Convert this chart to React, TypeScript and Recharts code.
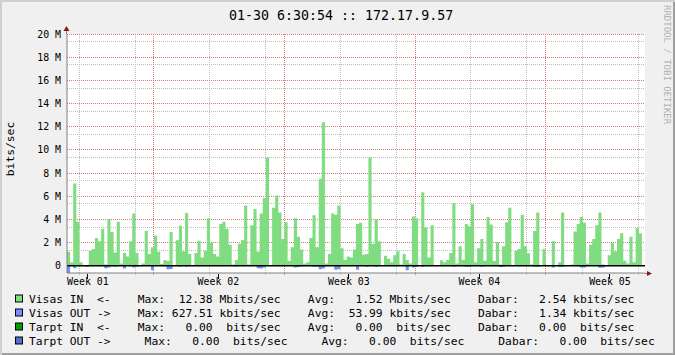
import { ComposedChart, Area, XAxis, YAxis, ReferenceLine, CartesianGrid } from "recharts";

// 4-hour bins over 31 days, values in Mbit/s
const BIN_DAYS = 1 / 6;
const TOTAL_DAYS = 31;

const visasIn = [
  1.2, 0.3, 7.1, 3.8, 0.3, 0, 0.05, 1.3, 1.45, 2.4, 2.1, 3.2,
  0.1, 4.0, 2.9, 1.15, 3.8, 0.2, 1.1, 0.8, 2.1, 4.5, 1.1, 0,
  0.2, 3.0, 1.0, 1.6, 2.6, 1.2, 0.15, 0.5, 0.4, 2.9, 0.05, 2.2,
  3.45, 1.24, 4.55, 1.0, 0.05, 1.1, 2.15, 0.7, 1.3, 4.1, 2.0, 1.0,
  0.8, 3.6, 3.8, 3.2, 1.8, 0.1, 0.5, 1.9, 2.2, 5.2, 0.1, 3.5,
  4.9, 1.2, 4.5, 5.85, 9.35, 0.05, 5.0, 6.07, 4.6, 2.3, 3.75, 0.4,
  1.6, 4.1, 2.5, 1.4, 0.2, 0.3, 2.4, 4.35, 1.6, 7.5, 12.38, 0.2,
  1.0, 4.5, 4.4, 5.2, 1.5, 0.5, 0.8, 0.7, 1.4, 3.6, 3.7, 0.95,
  1.0, 9.35, 1.87, 4.0, 2.1, 0, 0.86, 0.6, 0.3, 0.9, 1.24, 0.1,
  1.0, 0.5, 0.2, 4.25, 4.1, 0, 6.35, 3.3, 0.7, 3.5, 0, 0,
  0.46, 0.3, 0.5, 1.1, 5.4, 0.2, 1.67, 0.5, 3.6, 3.4, 5.3, 0.3,
  1.5, 2.3, 0.43, 4.2, 3.55, 0.4, 2.05, 0.1, 1.67, 3.75, 5.0, 0,
  1.3, 1.44, 4.4, 1.67, 1.07, 0.1, 3.0, 4.6, 0, 1.44, 0, 0,
  2.1, 0.05, 0.3, 4.6, 0, 0, 0.1, 2.95, 3.6, 4.2, 3.7, 0.2,
  1.8, 2.3, 3.5, 4.6, 0.1, 0, 0.9, 1.95, 1.25, 2.3, 2.8, 0.43,
  0.2, 2.5, 0.3, 3.25, 2.8, 0,
];

const visasOut = [
  -0.63, 0, -0.22, 0, 0, 0, -0.1, 0, 0, 0, -0.05, 0,
  -0.22, -0.15, 0, -0.08, 0, 0, -0.25, 0, 0, -0.15, -0.1, 0,
  0, 0, 0, -0.4, 0, 0, 0, 0, -0.3, -0.28, 0, 0,
  -0.1, 0, -0.1, 0, 0, 0, -0.05, 0, 0, 0, 0, 0,
  0, 0, 0, 0, 0, 0, -0.06, 0, 0, 0, 0, 0,
  0, -0.22, -0.25, -0.15, 0, 0, 0, 0, -0.05, 0, 0, 0,
  0, -0.15, -0.12, -0.05, 0, 0, 0, -0.1, -0.08, -0.3, -0.25, 0,
  0, 0, -0.35, -0.3, 0, 0, 0, 0, 0, -0.35, 0, 0,
  -0.1, 0, 0, -0.1, 0, 0, 0, 0, 0, -0.05, 0, 0,
  0, -0.4, 0, -0.15, -0.1, 0, -0.1, 0, -0.05, 0, 0, 0,
  0, 0, 0, 0, -0.1, 0, 0, 0, -0.1, -0.1, 0, 0,
  0, -0.1, 0, 0, 0, 0, 0, -0.12, -0.1, 0, 0, 0,
  0, -0.05, 0, 0, 0, 0, -0.1, -0.08, 0, 0, 0, 0,
  -0.15, 0, -0.1, -0.08, 0, 0, 0, 0, 0, -0.15, -0.15, 0,
  0, 0, 0, -0.18, -0.15, 0, 0, 0, 0, 0, 0, 0,
  0, 0, 0, 0, 0, 0,
];

const weekLabels = ["Week 01", "Week 02", "Week 03", "Week 04", "Week 05"];
const weekLabelDays = [1.12, 8.12, 15.12, 22.12, 29.12];
const weekGridDays = [4.665, 11.665, 18.665, 25.665];
const dayGridDays = Array.from({ length: 31 }, (_, k) => 0.665 + k).filter((_, k) => k % 7 !== 4);

const yTicks = [0, 2, 4, 6, 8, 10, 12, 14, 16, 18, 20];
const yMajorGrid = yTicks.filter((v) => v > 0);
const yMinorGrid = Array.from({ length: 31 }, (_, k) => (k * 2) / 3).filter((_, k) => k % 3 !== 0);

const legendRows = [
  { color: "#80DC80", text: "Visas IN  <-    Max:  12.38 Mbits/sec    Avg:   1.52 Mbits/sec    Dabar:   2.54 kbits/sec" },
  { color: "#7C8CFF", text: "Visas OUT ->    Max: 627.51 kbits/sec    Avg:  53.99 kbits/sec    Dabar:   1.34 kbits/sec" },
  { color: "#00A000", text: "Tarpt IN  <-    Max:   0.00  bits/sec    Avg:   0.00  bits/sec    Dabar:   0.00  bits/sec" },
  { color: "#4F6FCF", text: "Tarpt OUT ->     Max:   0.00  bits/sec     Avg:   0.00  bits/sec     Dabar:   0.00  bits/sec" },
];

const TITLE = "01-30 6:30:54 :: 172.17.9.57";
const MONO = '"DejaVu Sans Mono", monospace';

const W = 675;
const H = 355;
const PLOT_LEFT = 67;
const PLOT_TOP = 34;
const PLOT_RIGHT = 645;
const PLOT_BOTTOM = 273;
const Y_DOMAIN: [number, number] = [-0.63, 20];

const rows = visasIn.map((v, i) => ({ t: i * BIN_DAYS, in: v, out: visasOut[i] }));
rows.push({ t: TOTAL_DAYS, in: visasIn[visasIn.length - 1], out: visasOut[visasOut.length - 1] });

const MINOR = "#bdbdbd";
const MAJOR = "#d97a7a";

// dotted grid line snapped to the pixel grid; plot-edge lines are skipped
const dotted = (color: string, tail: number) => (p: any) => {
  const vertical = p.x1 === p.x2;
  const key = `${color}-${p.x1}-${p.y1}-${p.x2}-${p.y2}`;
  if (vertical && (p.x1 <= PLOT_LEFT + 0.5 || p.x1 >= PLOT_RIGHT - 0.5)) return <g key={key} />;
  if (!vertical && (p.y1 <= PLOT_TOP - 0.5 || p.y1 >= PLOT_BOTTOM - 0.5)) return <g key={key} />;
  const x = Math.floor(p.x1) + 0.5;
  const y = Math.floor(p.y1) + 0.5;
  return (
    <line
      key={key}
      x1={vertical ? x : p.x1}
      x2={vertical ? x : p.x2}
      y1={vertical ? Math.min(p.y1, p.y2) : y}
      y2={vertical ? Math.max(p.y1, p.y2) + tail : y}
      stroke={color}
      strokeWidth={1}
      strokeDasharray="1 1"
      shapeRendering="crispEdges"
    />
  );
};

function WeekTick(props: any) {
  const { x, y, index } = props;
  const xs = Math.floor(x) + 0.5;
  return (
    <g>
      <line x1={xs} y1={y + 1} x2={xs} y2={y + 6} stroke="#000" shapeRendering="crispEdges" />
      <text x={x} y={y + 11.6} textAnchor="middle" fontFamily={MONO} fontSize={9.9} fill="#000">
        {weekLabels[index]}
      </text>
    </g>
  );
}

export default function App() {
  return (
    <div
      style={{
        position: "absolute",
        left: 0,
        top: 0,
        width: W,
        height: H,
        background: "#F0F0F0",
        boxShadow: "inset 2px 2px 0 #CFCFCF, inset -2px -2px 0 #9E9E9E",
      }}
    >
      <ComposedChart
        width={W}
        height={H}
        data={rows}
        margin={{ top: PLOT_TOP, right: W - PLOT_RIGHT, bottom: 62, left: 7 }}
      >
        <CartesianGrid
          xAxisId="dayGrid"
          yAxisId="minorGrid"
          fill="#FFFFFF"
          horizontal={dotted(MINOR, 0)}
          vertical={dotted(MINOR, 2)}
        />
        <CartesianGrid
          xAxisId="weekGrid"
          yAxisId="majorGrid"
          horizontal={dotted(MAJOR, 0)}
          vertical={dotted(MAJOR, 3)}
        />
        <XAxis xAxisId="dayGrid" dataKey="t" type="number" domain={[0, TOTAL_DAYS]} ticks={dayGridDays} allowDataOverflow hide />
        <XAxis xAxisId="weekGrid" dataKey="t" type="number" domain={[0, TOTAL_DAYS]} ticks={weekGridDays} allowDataOverflow hide />
        <YAxis yAxisId="minorGrid" type="number" domain={Y_DOMAIN} ticks={yMinorGrid} allowDataOverflow hide />
        <YAxis yAxisId="majorGrid" type="number" domain={Y_DOMAIN} ticks={yMajorGrid} allowDataOverflow hide />
        <XAxis
          dataKey="t"
          type="number"
          domain={[0, TOTAL_DAYS]}
          ticks={weekLabelDays}
          interval={0}
          allowDataOverflow
          height={20}
          axisLine={{ stroke: "#808080" }}
          tickLine={false}
          tickSize={0}
          tickMargin={0}
          tick={WeekTick}
        />
        <YAxis
          type="number"
          domain={Y_DOMAIN}
          ticks={yTicks}
          interval={0}
          allowDataOverflow
          width={60}
          axisLine={{ stroke: "#808080" }}
          tickLine={false}
          tickSize={0}
          tickMargin={6}
          tick={{ fontFamily: MONO, fontSize: 9.9, fill: "#000" }}
          tickFormatter={(v: number) => (v === 0 ? "0" : `${v} M`)}
        />
        <Area
          type="stepAfter"
          dataKey="in"
          fill="#80DC80"
          fillOpacity={1}
          stroke="none"
          dot={false}
          activeDot={false}
          isAnimationActive={false}
        />
        <Area
          type="stepAfter"
          dataKey="out"
          fill="#7C8CFF"
          fillOpacity={1}
          stroke="none"
          dot={false}
          activeDot={false}
          isAnimationActive={false}
        />
        <ReferenceLine y={0} stroke="#000" strokeWidth={1.5} />
      </ComposedChart>

      <svg
        width={W}
        height={H}
        style={{ position: "absolute", left: 0, top: 0, pointerEvents: "none" }}
      >
        <text x={229} y={19.7} fontFamily={MONO} fontSize={13.3} fill="#000" xmlSpace="preserve" style={{ whiteSpace: "pre" }}>
          {TITLE}
        </text>
        <text
          x={10}
          y={149}
          transform="rotate(-90 10 149)"
          textAnchor="middle"
          dominantBaseline="central"
          fontFamily={MONO}
          fontSize={11.3}
          fill="#000"
        >
          bits/sec
        </text>
        <text
          x={666.5}
          y={5}
          transform="rotate(90 666.5 5)"
          dominantBaseline="central"
          fontFamily={MONO}
          fontSize={9}
          fill="#b0b0b0"
        >
          RRDTOOL / TOBI OETIKER
        </text>
        {/* axis arrows */}
        <line x1={PLOT_LEFT - 0.5} y1={PLOT_TOP} x2={PLOT_LEFT - 0.5} y2={29} stroke="#808080" />
        <polygon points={`${PLOT_LEFT - 3.5},31 ${PLOT_LEFT + 2.5},31 ${PLOT_LEFT - 0.5},26`} fill="#8B1A1A" />
        <line x1={PLOT_RIGHT} y1={PLOT_BOTTOM + 0.5} x2={648} y2={PLOT_BOTTOM + 0.5} stroke="#808080" />
        <polygon points={`647,${PLOT_BOTTOM - 2} 647,${PLOT_BOTTOM + 3} 652,${PLOT_BOTTOM + 0.5}`} fill="#8B1A1A" />
        {legendRows.map((r, i) => {
          const cy = 298.5 + i * 14;
          return (
            <g key={r.text}>
              <rect x={15.5} y={cy - 3.5} width={7} height={7} fill={r.color} stroke="#000" strokeWidth={1} />
              <text
                x={29}
                y={cy + 4.1}
                fontFamily={MONO}
                fontSize={11.3}
                fill="#000"
                xmlSpace="preserve"
                style={{ whiteSpace: "pre" }}
              >
                {r.text}
              </text>
            </g>
          );
        })}
      </svg>
    </div>
  );
}
